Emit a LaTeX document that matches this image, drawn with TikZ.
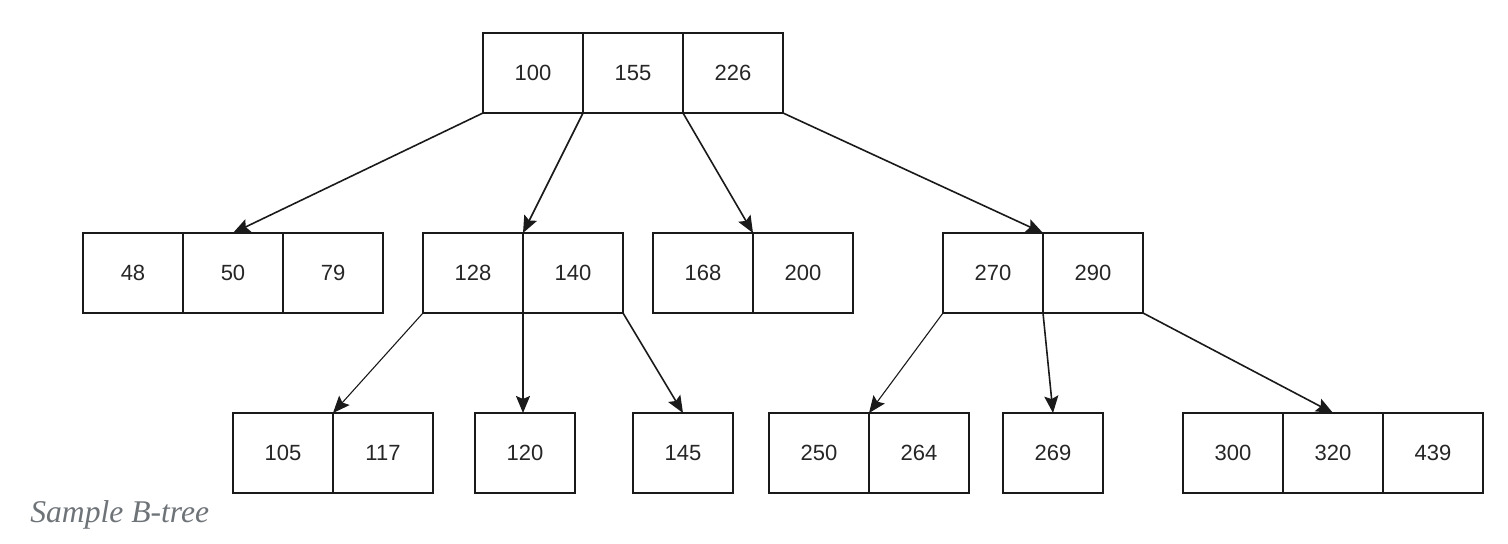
\documentclass[tikz,border=0pt]{standalone}
\usepackage{fontspec}
\setmainfont{Liberation Sans}
\newfontfamily\captionfont{Liberation Serif}
\usetikzlibrary{arrows.meta,positioning}
\definecolor{edge}{HTML}{1A1A1A}
\definecolor{captiongray}{HTML}{6E7378}
\tikzset{
  keybox/.style={draw=edge, line width=1pt, minimum width=50pt, minimum height=40pt,
    inner sep=0pt, outer sep=0pt, font=\fontsize{11}{13}\selectfont, text=black!85},
  arr/.style={-{Stealth[length=8.5pt, width=7pt, inset=1.5pt]}, line width=0.8pt, draw=edge},
  thinarr/.style={arr, line width=0.55pt}
}

\begin{document}
\begin{tikzpicture}[x=0.5pt, y=-0.5pt]
  \useasboundingbox (0,0) rectangle (1508,544);
  % root
  \node[keybox] (k100) at (533,73) {100};
  \node[keybox, right=0pt of k100] (k155) {155};
  \node[keybox, right=0pt of k155] (k226) {226};
  % second level
  \node[keybox] (k48) at (133,273) {48};
  \node[keybox, right=0pt of k48] (k50) {50};
  \node[keybox, right=0pt of k50] (k79) {79};
  \node[keybox] (k128) at (473,273) {128};
  \node[keybox, right=0pt of k128] (k140) {140};
  \node[keybox] (k168) at (703,273) {168};
  \node[keybox, right=0pt of k168] (k200) {200};
  \node[keybox] (k270) at (993,273) {270};
  \node[keybox, right=0pt of k270] (k290) {290};
  % leaves
  \node[keybox] (k105) at (283,453) {105};
  \node[keybox, right=0pt of k105] (k117) {117};
  \node[keybox] (k120) at (525,453) {120};
  \node[keybox] (k145) at (683,453) {145};
  \node[keybox] (k250) at (819,453) {250};
  \node[keybox, right=0pt of k250] (k264) {264};
  \node[keybox] (k269) at (1053,453) {269};
  \node[keybox] (k300) at (1233,453) {300};
  \node[keybox, right=0pt of k300] (k320) {320};
  \node[keybox, right=0pt of k320] (k439) {439};
  % pointers
  \foreach \a/\b in {k100.south west/k50.north, k100.south east/k128.north east,
      k155.south east/k168.north east, k226.south east/k270.north east,
      k128.south east/k128.south east |- k120.north, k140.south east/k145.north,
      k270.south east/k269.north, k290.south east/k320.north}
    \draw[arr] (\a) -- (\b);
  \foreach \a/\b in {k128.south west/k105.north east, k270.south west/k250.north east}
    \draw[thinarr] (\a) -- (\b);
  \node[anchor=base west, font=\captionfont\itshape\fontsize{15.8}{18}\selectfont,
    text=captiongray, inner sep=0pt] (caption) at (30,522) {Sample B-tree};
\end{tikzpicture}
\end{document}
